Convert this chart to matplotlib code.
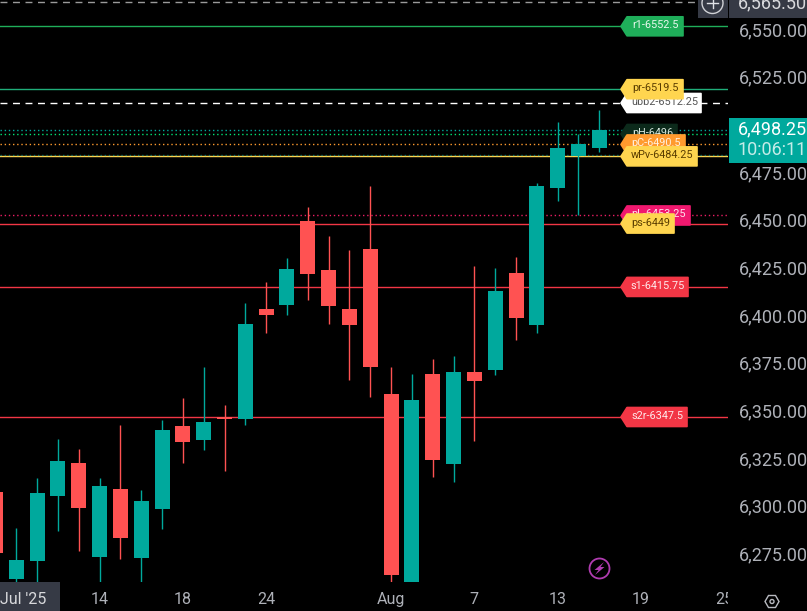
import matplotlib
matplotlib.use("Agg")
import matplotlib.pyplot as plt
from matplotlib.patches import Circle, Polygon, Rectangle

plt.rcParams["font.family"] = ["Roboto", "DejaVu Sans"]

W, H = 807, 611
PANE_W, PANE_H = 728, 582

GREEN = "#00a99d"
RED = "#ff5252"
BG = "#000000"
AXIS_TEXT = "#aeb1b8"
BOX = "#363a45"

# session index, first one is cut by the left edge
days = list(range(-1, 29))
opens = [6308.25, 6262.5, 6272, 6306, 6323.5, 6274, 6309.75, 6273.5, 6299.25, 6342.75,
         6335.5, 6347.5, 6346.5, 6404.25, 6406.25, 6450.25, 6424.5, 6404.25, 6435.5, 6359.5,
         6258, 6370, 6322.75, 6371, 6372.25, 6423, 6395.75, 6467.75, 6484.5, 6488.5]
highs = [6314.5, 6289.25, 6315.5, 6336, 6330.75, 6315.5, 6343.25, 6309.25, 6346, 6357.5,
         6373.75, 6353.75, 6407.25, 6418.25, 6431, 6457.75, 6442.5, 6435, 6468.75, 6373.75,
         6370, 6378, 6379.5, 6426.75, 6425.75, 6431.5, 6470.25, 6502.25, 6496, 6508.5]
lows = [6269.75, 6256.75, 6256.75, 6287.75, 6277.25, 6256.75, 6273, 6256.75, 6288.75, 6323.5,
        6330.25, 6319.25, 6343.25, 6391.5, 6401, 6409, 6396.25, 6367, 6358, 6261,
        6258, 6316, 6313.5, 6335, 6369.5, 6388, 6391.5, 6460.75, 6453.5, 6486.5]
closes = [6276, 6272.5, 6307.5, 6324.5, 6299.75, 6311.25, 6284, 6303.5, 6340.75, 6334.5,
          6345, 6346.25, 6396.25, 6401, 6425.25, 6422.5, 6405.75, 6395.75, 6373.75, 6264.5,
          6356.5, 6325, 6371, 6366.5, 6413.5, 6399.5, 6468.75, 6488.5, 6490.75, 6498.25]

price_ticks = [6275, 6300, 6325, 6350, 6375, 6400, 6425, 6450, 6475, 6500, 6525, 6550]
date_ticks = [4, 8, 12, 18, 22, 26, 30, 34]
date_labels = ["14", "18", "24", "Aug", "7", "13", "19", "25"]

# name, price, line colour, line style, label fill, text colour, label right edge
levels = [
    ("ubb2-6512.25", 6512.25, "#ffffff", (0, (5, 4)), "#ffffff", "#555555", 702),
    ("pH-6496", 6496, "#00e676", (0, (1, 2)), "#0c2a1b", "#d8e8df", 678),
    ("pL-6453.25", 6453.25, "#e91e63", (0, (1, 2)), "#f0186f", "#ffe0ec", 691),
    ("pC-6490.5", 6490.5, "#ff9a2e", (0, (1, 2)), "#ff9a2e", "#fff0dd", 686),
    ("r1-6552.5", 6552.5, "#1fae5a", "-", "#1fae5a", "#e8f8ee", 684),
    ("pr-6519.5", 6519.5, "#1fae7a", "-", "#ffd54f", "#5a3d00", 684),
    ("wPv-6484.25", 6484.25, "#ffd54f", "-", "#ffd54f", "#5a3d00", 698),
    ("ps-6449", 6449, "#f23645", "-", "#ffd54f", "#5a3d00", 675),
    ("s1-6415.75", 6415.75, "#f23645", "-", "#f23645", "#ffe8ea", 689),
    ("s2r-6347.5", 6347.5, "#f23645", "-", "#f23645", "#ffe8ea", 688),
]
last_price = 6498.25
cursor_price = 6565.5
avg_price = 6485


def main():
    fig = plt.figure(figsize=(W / 100, H / 100), dpi=100, facecolor=BG)
    ax = fig.add_axes([0, (H - PANE_H) / H, PANE_W / W, PANE_H / H], facecolor=BG)
    ax.set_xlim(-0.783, 34.18)
    ax.set_ylim(6566.3 - 0.5247 * PANE_H, 6566.3)
    for side in ax.spines.values():
        side.set_visible(False)

    # levels sit behind the candles
    for name, price, color, style, fill, txt, right in levels:
        ax.axhline(price, color=color, lw=1, ls=style, zorder=1)
    ax.axhline(last_price, color=GREEN, lw=1, ls=(0, (1, 2)), zorder=1)
    ax.axhline(avg_price, color=GREEN, lw=1, ls=(0, (1, 2)), alpha=0.6, zorder=1)
    ax.axhline(cursor_price, color="#9a9a9a", lw=1, ls=(0, (5, 4)), zorder=1)

    colors = [GREEN if c >= o else RED for o, c in zip(opens, closes)]
    ax.vlines(days, lows, highs, colors=colors, lw=1, zorder=2)
    tops = [max(o, c) for o, c in zip(opens, closes)]
    bots = [min(o, c) for o, c in zip(opens, closes)]
    ax.bar(days, [t - b for t, b in zip(tops, bots)], bottom=bots, width=0.72,
           color=colors, lw=0, zorder=3)

    ax.yaxis.tick_right()
    ax.set_yticks(price_ticks)
    ax.set_yticklabels([f"{p:,.2f}" for p in price_ticks], color=AXIS_TEXT, fontsize=13,
                       va="center")
    ax.tick_params(axis="y", length=0, pad=8)
    ax.set_xticks([])

    # date strip, same x scale as the pane so the last label gets cut
    time_ax = fig.add_axes([0, 0, PANE_W / W, (H - PANE_H) / H], facecolor=BG)
    time_ax.set_xlim(ax.get_xlim())
    time_ax.set_ylim(0, 1)
    time_ax.axis("off")
    for k, lab in zip(date_ticks, date_labels):
        time_ax.text(k, 0.38, lab, color=AXIS_TEXT, fontsize=11.5, ha="center", va="center",
                     clip_on=True)

    over = fig.add_axes([0, 0, 1, 1], facecolor="none")
    over.set_xlim(0, W)
    over.set_ylim(H, 0)
    over.axis("off")

    def ypx(price):
        return H - ax.transData.transform((0, price))[1]

    for name, price, color, style, fill, txt, right in levels:
        y = ypx(price)
        pts = [(621, y), (627, y - 9.5), (right - 1, y - 9.5), (right - 1, y + 9.5), (627, y + 9.5)]
        order = 5 + levels.index((name, price, color, style, fill, txt, right))
        over.add_patch(Polygon(pts, closed=True, fc=fill, ec=fill, lw=1.2, joinstyle="round",
                               zorder=order))
        over.text((627 + right) / 2, y - 1, name, color=txt, fontsize=7.8, ha="center",
                  va="center", zorder=order + 0.5)

    # last price tag
    y_last = ypx(last_price)
    over.add_patch(Rectangle((729, y_last - 11.5), 78, 45, fc=GREEN, ec="none", zorder=20))
    over.text(772.5, y_last, f"{last_price:,.2f}", color="#ffffff", fontsize=13,
              ha="center", va="center", zorder=21)
    over.text(772.5, y_last + 20, "10:06:11", color="#c4ece8", fontsize=13,
              ha="center", va="center", zorder=21)

    # crosshair tag and plus button
    over.add_patch(Rectangle((698, 0), 30, 18, fc=BOX, ec="none", zorder=20))
    over.add_patch(Rectangle((729, 0), 78, 18, fc=BOX, ec="none", zorder=20))
    over.text(772.5, 3, f"{cursor_price:,.2f}", color="#d8d9dc", fontsize=13, ha="center",
              va="center", zorder=21)
    over.add_patch(Circle((712.5, 3), 10.5, fc="none", ec="#d0d2d6", lw=1, zorder=21))
    over.plot([707, 718], [3, 3], color="#e0e2e6", lw=1, zorder=21)
    over.plot([712.5, 712.5], [-2, 8], color="#e0e2e6", lw=1, zorder=21)

    # highlighted date
    over.add_patch(Rectangle((0, 582), 60, 29, fc=BOX, ec="none", zorder=20))
    over.text(23, 600, "Jul '25", color="#d8d9dc", fontsize=11.5, ha="center", va="center",
              zorder=21)

    # bolt badge
    over.add_patch(Circle((599.5, 568.5), 10, fc="none", ec="#b03cb0", lw=1.3, zorder=21))
    over.add_patch(Polygon([(604, 562), (594.5, 570), (598.5, 570), (595, 575), (604.5, 567),
                            (600.5, 567)], closed=True, fc="#b03cb0", ec="none", zorder=21))

    # settings hexagon
    over.add_patch(Polygon([(765, 601.5), (768.5, 595.5), (775.5, 595.5), (779, 601.5),
                            (775.5, 607.5), (768.5, 607.5)], closed=True, fc="none",
                           ec="#b8bac0", lw=1, zorder=21))
    over.add_patch(Circle((772, 601.5), 2, fc="none", ec="#b8bac0", lw=1, zorder=21))

    fig.savefig("out.png", dpi=100, facecolor=BG)


if __name__ == "__main__":
    main()
